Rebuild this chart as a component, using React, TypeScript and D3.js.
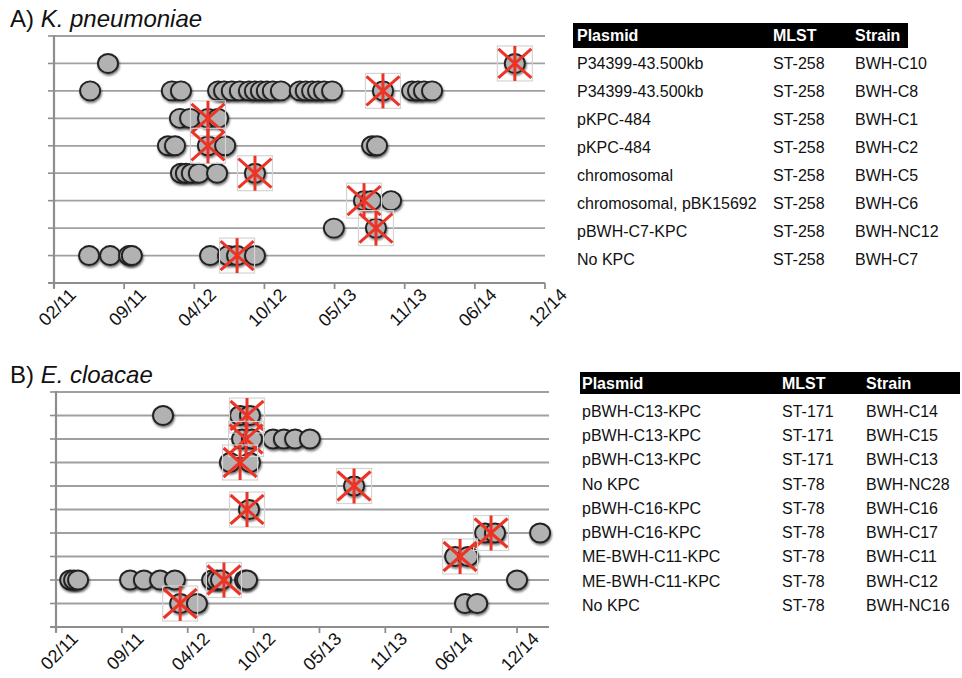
import React from "react";
import * as d3 from "d3";

// ---------- DATA ----------
// x values are days since 28 Feb 2011 (first axis tick); ticks every 200 days
const tickLabels = ["02/11", "09/11", "04/12", "10/12", "05/13", "11/13", "06/14", "12/14"];
const tickDays = [0, 200, 400, 600, 800, 1000, 1200, 1400];

// Panel A: K. pneumoniae (rows top to bottom)
const kpPlasmid = ["P34399-43.500kb", "P34399-43.500kb", "pKPC-484", "pKPC-484", "chromosomal", "chromosomal, pBK15692", "pBWH-C7-KPC", "No KPC"];
const kpMlst = ["ST-258", "ST-258", "ST-258", "ST-258", "ST-258", "ST-258", "ST-258", "ST-258"];
const kpStrain = ["BWH-C10", "BWH-C8", "BWH-C1", "BWH-C2", "BWH-C5", "BWH-C6", "BWH-NC12", "BWH-C7"];
const kpIsolates: number[][] = [
  [154, 1314],
  [103, 336, 362, 468, 485, 507, 530, 556, 573, 590, 607, 624, 647, 701, 718, 736, 753, 770, 793, 938, 1021, 1038, 1055, 1078],
  [359, 388, 439, 468],
  [325, 345, 439, 488, 907, 921],
  [362, 376, 393, 413, 465, 573],
  [884, 904, 961],
  [798, 918],
  [100, 160, 214, 222, 445, 496, 522, 573],
];
const kpCarbapenemase: number[][] = [[1314], [938], [439], [439], [573], [884], [918], [522]];

// Panel B: E. cloacae
const ecPlasmid = ["pBWH-C13-KPC", "pBWH-C13-KPC", "pBWH-C13-KPC", "No KPC", "pBWH-C16-KPC", "pBWH-C16-KPC", "ME-BWH-C11-KPC", "ME-BWH-C11-KPC", "No KPC"];
const ecMlst = ["ST-171", "ST-171", "ST-171", "ST-78", "ST-78", "ST-78", "ST-78", "ST-78", "ST-78"];
const ecStrain = ["BWH-C14", "BWH-C15", "BWH-C13", "BWH-NC28", "BWH-C16", "BWH-C17", "BWH-C11", "BWH-C12", "BWH-NC16"];
const ecIsolates: number[][] = [
  [325, 559, 589],
  [565, 595, 659, 692, 726, 771],
  [528, 589],
  [905],
  [586],
  [1303, 1333, 1470],
  [1212, 1251],
  [43, 55, 67, 225, 267, 316, 361, 474, 489, 501, 574, 580, 1400],
  [377, 428, 1242, 1279],
];
const ecCarbapenemase: number[][] = [[580], [577], [559], [905], [580], [1321], [1227], [510], [377]];

const FONT = "'Liberation Sans', Arial, Helvetica, sans-serif";
const GRID = "#a0a0a0";
const AXIS = "#8e8e8e";
const RED = "#ec3426";

type PanelProps = {
  isolates: number[][];
  crosses: number[][];
  left: number;
  right: number;
  top: number;
  bottom: number;
  domainMax: number;
};

function Cross({ cx, cy }: { cx: number; cy: number }) {
  const s = 16.5;
  return (
    <g>
      <rect x={cx - s - 1} y={cy - s - 1} width={2 * s + 2} height={2 * s + 2} fill="none" stroke="#d4d4d4" strokeWidth={1.2} />
      <line x1={cx - s} y1={cy - s + 2} x2={cx + s} y2={cy + s - 2} stroke={RED} strokeWidth={3} />
      <line x1={cx - s} y1={cy + s - 2} x2={cx + s} y2={cy - s + 2} stroke={RED} strokeWidth={3} />
      <line x1={cx} y1={cy - s - 1} x2={cx} y2={cy + s + 1} stroke={RED} strokeWidth={3} />
    </g>
  );
}

function Panel({ isolates, crosses, left, right, top, bottom, domainMax }: PanelProps) {
  const n = isolates.length;
  const x = d3.scaleLinear().domain([0, domainMax]).range([left, right]);
  const y = d3.scaleLinear().domain([0, n + 1]).range([bottom, top]);
  const gridVals = d3.range(1, n + 2);
  const rowY = (i: number) => y(n - i);
  return (
    <g>
      {gridVals.map((v) => (
        <g key={"g" + v}>
          <line x1={left} x2={right} y1={y(v)} y2={y(v)} stroke={GRID} strokeWidth={1.8} />
          <line x1={left - 6} x2={left} y1={y(v)} y2={y(v)} stroke={AXIS} strokeWidth={1.6} />
        </g>
      ))}
      <line x1={left} x2={left} y1={top - 1} y2={bottom + 5} stroke={AXIS} strokeWidth={2.2} />
      <line x1={left - 6} x2={right} y1={bottom} y2={bottom} stroke={AXIS} strokeWidth={2.2} />
      {tickDays.map((d, i) => (
        <g key={"t" + i}>
          <line x1={x(d)} x2={x(d)} y1={bottom} y2={bottom + 6} stroke={AXIS} strokeWidth={1.8} />
          <text
            transform={`translate(${x(d) + 23},${bottom + 13}) rotate(-45)`}
            textAnchor="end"
            fontFamily={FONT}
            fontSize={18}
            fill="#111"
          >
            {tickLabels[i]}
          </text>
        </g>
      ))}
      {isolates.map((row, i) =>
        row.map((d, j) => (
          <ellipse
            key={`c${i}-${j}`}
            cx={x(d)}
            cy={rowY(i)}
            rx={10}
            ry={9.5}
            fill="#b2b2b2"
            stroke="#222"
            strokeWidth={1.9}
            filter="url(#shadow)"
          />
        ))
      )}
      {crosses.map((row, i) => row.map((d, j) => <Cross key={`x${i}-${j}`} cx={x(d)} cy={rowY(i)} />))}
    </g>
  );
}

type TableProps = {
  plasmid: string[];
  mlst: string[];
  strain: string[];
  left: number;
  right: number;
  headTop: number;
  headH: number;
  rowY0: number;
  rowStep: number;
  colX: number[];
};

function Table({ plasmid, mlst, strain, left, right, headTop, headH, rowY0, rowStep, colX }: TableProps) {
  const heads = ["Plasmid", "MLST", "Strain"];
  return (
    <g fontFamily={FONT} fontSize={16}>
      <rect x={left} y={headTop} width={right - left} height={headH} fill="#000" />
      {heads.map((h, i) => (
        <text key={h} x={colX[i]} y={headTop + headH / 2} dy="0.35em" fill="#fff" fontWeight="bold">
          {h}
        </text>
      ))}
      {plasmid.map((p, i) => (
        <g key={"r" + i}>
          <text x={colX[0]} y={rowY0 + i * rowStep} dy="0.35em" fill="#111">{p}</text>
          <text x={colX[1]} y={rowY0 + i * rowStep} dy="0.35em" fill="#111">{mlst[i]}</text>
          <text x={colX[2]} y={rowY0 + i * rowStep} dy="0.35em" fill="#111">{strain[i]}</text>
        </g>
      ))}
    </g>
  );
}

export default function App() {
  return (
    <svg width={962} height={678} style={{ position: "absolute", left: 0, top: 0, background: "#fff" }}>
      <defs>
        <filter id="shadow" x="-50%" y="-50%" width="200%" height="200%">
          <feDropShadow dx={0.8} dy={1.8} stdDeviation={1.3} floodColor="#000" floodOpacity={0.55} />
        </filter>
      </defs>
      <rect width={962} height={678} fill="#fff" />
      <text x={10} y={27} fontFamily={FONT} fontSize={24} fill="#111">
        A) <tspan fontStyle="italic">K. pneumoniae</tspan>
      </text>
      <text x={10} y={383} fontFamily={FONT} fontSize={24} fill="#111">
        B) <tspan fontStyle="italic">E. cloacae</tspan>
      </text>
      <Panel isolates={kpIsolates} crosses={kpCarbapenemase} left={54} right={545} top={36} bottom={283} domainMax={1400} />
      <Panel isolates={ecIsolates} crosses={ecCarbapenemase} left={56} right={549} top={392} bottom={627} domainMax={1497} />
      <Table
        plasmid={kpPlasmid}
        mlst={kpMlst}
        strain={kpStrain}
        left={573}
        right={908}
        headTop={23}
        headH={25}
        rowY0={63}
        rowStep={28}
        colX={[577, 773, 855]}
      />
      <Table
        plasmid={ecPlasmid}
        mlst={ecMlst}
        strain={ecStrain}
        left={580}
        right={960}
        headTop={372}
        headH={22}
        rowY0={411}
        rowStep={24.3}
        colX={[582, 782, 866]}
      />
    </svg>
  );
}
